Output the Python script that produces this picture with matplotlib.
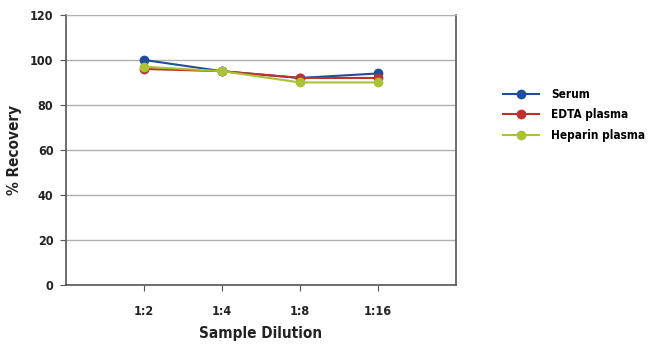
import matplotlib
matplotlib.use('Agg')
import matplotlib.pyplot as plt

dilutions = ['1:2', '1:4', '1:8', '1:16']
serum = [100, 95, 92, 94]
edta_plasma = [96, 95, 92, 92]
heparin_plasma = [97, 95, 90, 90]

# condensed bold sans to stand in for the narrow font of the original
plt.rcParams['font.family'] = ['DejaVu Sans']
plt.rcParams['font.stretch'] = 'condensed'
plt.rcParams['font.weight'] = 'bold'

fig = plt.figure(figsize=(6.5, 3.55), dpi=100)
ax = fig.add_axes([0.1015, 0.197, 0.6, 0.761])

x = list(range(1, len(dilutions) + 1))
ax.plot(x, serum, color='#1f4e9c', marker='o', markersize=6, lw=1.5, label='Serum')
ax.plot(x, edta_plasma, color='#c0302c', marker='o', markersize=6, lw=1.5, label='EDTA plasma')
ax.plot(x, heparin_plasma, color='#a9c236', marker='o', markersize=6, lw=1.5, label='Heparin plasma')

ax.set_xlim(0, 5)
ax.set_ylim(0, 120)
ax.set_yticks(range(0, 121, 20))
ax.set_xticks(x)
ax.set_xticklabels(dilutions)
ax.yaxis.grid(True, color='#b0b0b0', lw=1)
ax.set_axisbelow(True)

for s in ['left', 'bottom', 'right']:
    ax.spines[s].set_color('#555555')
    ax.spines[s].set_linewidth(1.2)
ax.spines['top'].set_color('#b0b0b0')
ax.tick_params(axis='both', colors='#555555', labelcolor='#222222', labelsize=9, length=4)
ax.tick_params(axis='x', pad=10)
ax.tick_params(axis='y', pad=5)

ax.set_xlabel('Sample Dilution', fontsize=11, fontweight='bold', color='#222222', va='center')
ax.set_ylabel('% Recovery', fontsize=11, fontweight='bold', color='#222222', va='center')
ax.xaxis.set_label_coords(0.5, -0.178)
ax.yaxis.set_label_coords(-0.131, 0.5)

leg = ax.legend(loc='center left', bbox_to_anchor=(1.12, 0.63), frameon=False,
                fontsize=8.5, handlelength=3.1, handletextpad=1.0,
                labelspacing=0.65, borderpad=0, borderaxespad=0)
for t in leg.get_texts():
    t.set_fontweight('bold')

plt.savefig('out.png', dpi=100)
